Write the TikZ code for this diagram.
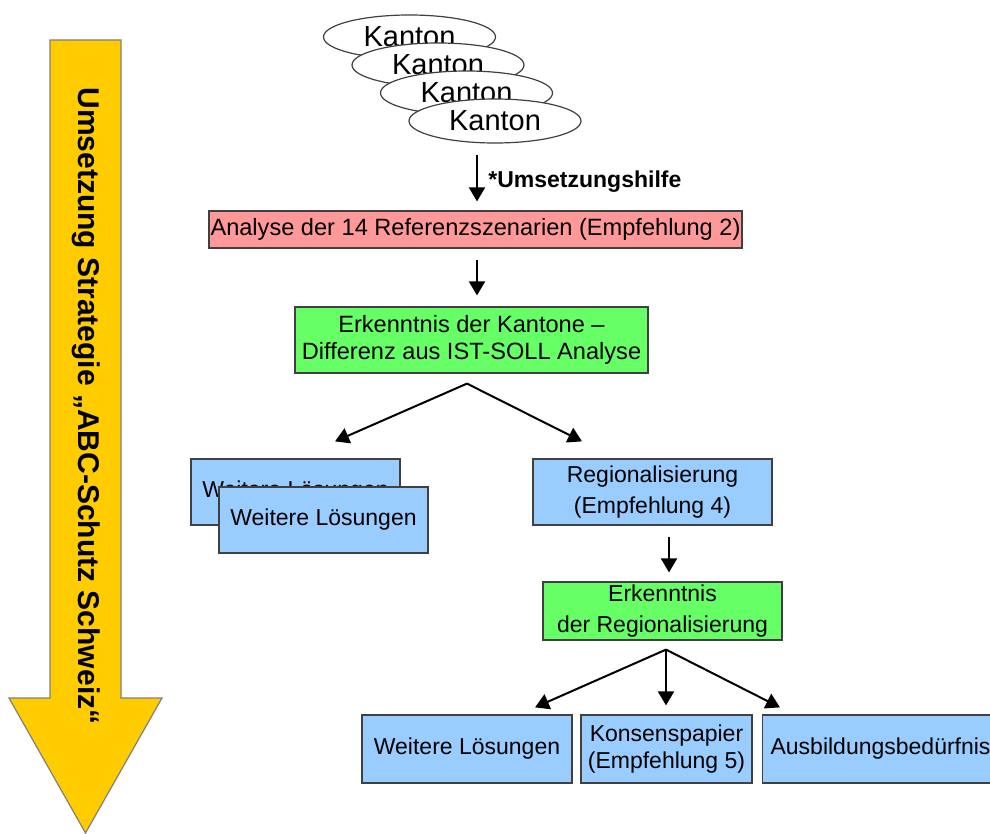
\documentclass[tikz,border=0pt]{standalone}
\usepackage{fontspec}
\setmainfont{Liberation Sans}
\usetikzlibrary{shapes.geometric,arrows.meta}
\definecolor{gelb}{HTML}{FFCC00}
\definecolor{rosa}{HTML}{FF9999}
\definecolor{gruen}{HTML}{66FF66}
\definecolor{hellblau}{HTML}{99CCFF}
\definecolor{rand}{HTML}{404040}
\tikzset{
    box/.style={draw=rand, line width=0.6pt, inner sep=0pt, align=center, font=\fontsize{11.5}{13.5}\selectfont},
    rosabox/.style={box, fill=rosa},
    gruenbox/.style={box, fill=gruen},
    blaubox/.style={box, fill=hellblau},
    kanton/.style={ellipse, draw=rand, line width=0.6pt, fill=white, inner sep=0pt,
        minimum width=86pt, minimum height=22pt, font=\fontsize{14.5}{16}\selectfont},
    pfeil/.style={-{Triangle[length=7pt,width=8pt]}, line width=1pt}
}
\begin{document}
\begin{tikzpicture}[x=0.5pt,y=-0.5pt]
        \useasboundingbox (0,0) rectangle (990,834);
        \clip (0,0) rectangle (990,834);
        % grosser Pfeil links
        \draw[fill=gelb, draw=gray, line width=0.6pt] (50,40) -- (121,40) -- (121,698) -- (162,698)
            -- (85.5,833) -- (9,698) -- (50,698) -- cycle;
        \node[rotate=-90, font=\bfseries\fontsize{15}{17}\selectfont] (strategie) at (86,406)
            {Umsetzung Strategie „ABC-Schutz Schweiz“};
        % Kantone
        \foreach \i in {1, 2, 3, 4}{
                \node[kanton] (k\i) at ({409.5+28.5*(\i-1)}, {37+28*(\i-1)}) {Kanton};
            }
        \node[rosabox, minimum width=266.5pt, minimum height=18.5pt, font=\fontsize{11.8}{13.5}\selectfont] (analyse) at (475.5,229.5)
            {Analyse der 14 Referenzszenarien (Empfehlung 2)};
        \node[gruenbox, minimum width=176.5pt, minimum height=33pt, font=\fontsize{11.8}{13.5}\selectfont] (erk1) at (471.5,340)
            {Erkenntnis der Kantone --\\Differenz aus IST-SOLL Analyse};
        \node[blaubox, minimum width=104.5pt, minimum height=33pt] (wl1) at (295.5,492) {Weitere Lösungen};
        \node[blaubox, minimum width=104.5pt, minimum height=33pt] (wl2) at (323.5,520) {Weitere Lösungen};
        \node[blaubox, minimum width=119.5pt, minimum height=33pt, font=\fontsize{11.5}{15.5}\selectfont] (reg) at (652.5,492)
            {Regionalisierung\\(Empfehlung 4)};
        \node[gruenbox, minimum width=119.5pt, minimum height=29pt, font=\fontsize{11.5}{15.5}\selectfont] (erk2) at (662.5,611)
            {Erkenntnis\\der Regionalisierung};
        \node[blaubox, minimum width=105pt, minimum height=34pt] (wl3) at (467,749) {Weitere Lösungen};
        \node[blaubox, minimum width=85.5pt, minimum height=34pt] (kons) at (666.5,749)
            {Konsenspapier\\(Empfehlung 5)};
        \node[blaubox, anchor=west, text width=115pt, align=left, inner xsep=4pt, minimum height=34pt] (ausb) at (762,749)
            {Ausbildungsbedürfnis};
        % Pfeile
        \draw[pfeil] ([xshift=-9pt,yshift=-5.5pt]k4.south) -- ([xshift=0.75pt,yshift=4.5pt]analyse.north);
        \node[anchor=west, inner sep=0pt, font=\bfseries\fontsize{11.5}{13}\selectfont] (hilfe) at (488,182) {*Umsetzungshilfe};
        \draw[pfeil] ([xshift=0.75pt,yshift=-5.5pt]analyse.south) -- ([xshift=2.75pt,yshift=5.5pt]erk1.north);
        \draw[pfeil] ([xshift=-2.25pt,yshift=-5pt]erk1.south) -- ([xshift=19.75pt,yshift=8.5pt]wl1.north);
        \draw[pfeil] ([xshift=-2.25pt,yshift=-5pt]erk1.south) -- ([xshift=-35.25pt,yshift=8.5pt]reg.north);
        \draw[pfeil] ([xshift=8.25pt,yshift=-5.5pt]reg.south) -- ([xshift=3.25pt,yshift=4.5pt]erk2.north);
        \draw[pfeil] ([xshift=1.75pt,yshift=-4.5pt]erk2.south) -- ([xshift=34pt,yshift=3.5pt]wl3.north);
        \draw[pfeil] ([xshift=1.75pt,yshift=-4.5pt]erk2.south) -- ([xshift=-0.25pt,yshift=4.5pt]kons.north);
        \draw[pfeil] ([xshift=1.75pt,yshift=-4.5pt]erk2.south) -- ([xshift=9pt,yshift=3.5pt]ausb.north west);
    \end{tikzpicture}
\end{document}
